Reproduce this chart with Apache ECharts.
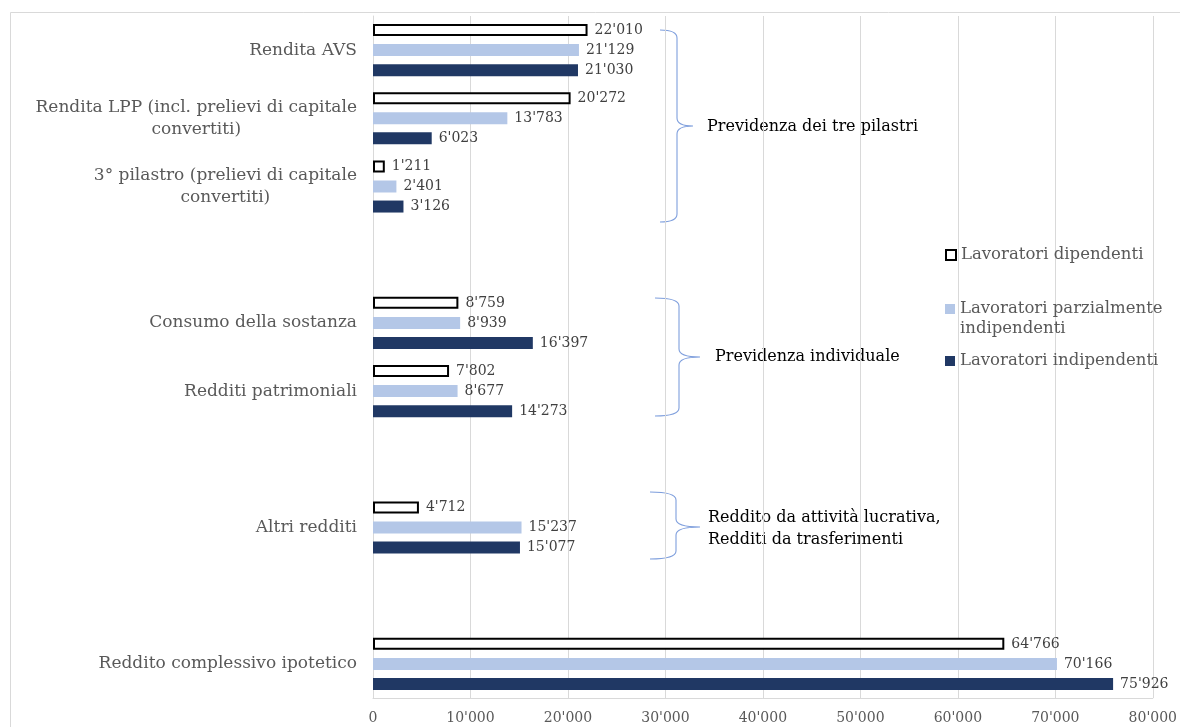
<!DOCTYPE html>
<html>
<head>
<meta charset="utf-8">
<script src="https://cdn.jsdelivr.net/npm/echarts@6/dist/echarts.min.js"></script>
<style>
  html, body { margin: 0; padding: 0; background: #fff; }
  #chart { width: 1180px; height: 727px; }
</style>
</head>
<body>
<div id="chart"></div>
<script>
// Categories, top to bottom (blank entries are spacer rows between groups)
const categories = [
  'Rendita AVS',
  'Rendita LPP (incl. prelievi di capitale\nconvertiti)',
  '3° pilastro (prelievi di capitale\nconvertiti)',
  ' ',
  'Consumo della sostanza',
  'Redditi patrimoniali',
  '  ',
  'Altri redditi',
  '   ',
  'Reddito complessivo ipotetico'
];

const seriesNames = [
  'Lavoratori dipendenti',
  'Lavoratori parzialmente\nindipendenti',
  'Lavoratori indipendenti'
];

const dipendenti  = [22010, 20272, 1211, null, 8759, 7802, null, 4712, null, 64766];
const parziali    = [21129, 13783, 2401, null, 8939, 8677, null, 15237, null, 70166];
const indipendenti = [21030, 6023, 3126, null, 16397, 14273, null, 15077, null, 75926];

const xTicks = [0, 10000, 20000, 30000, 40000, 50000, 60000, 70000, 80000];

const groupNotes = [
  'Previdenza dei tre pilastri',
  'Previdenza individuale',
  'Reddito da attività lucrativa,\nRedditi da trasferimenti'
];

const FONT = 'DejaVu Serif';
const fmt = v => String(v).replace(/\B(?=(\d{3})+(?!\d))/g, "'");

// Curly brace shape: ends at xEnd, vertical spine at xSpine, point at xTip
echarts.graphic.registerShape('curlyBrace', echarts.graphic.extendShape({
  shape: { xEnd: 0, xSpine: 0, xTip: 0, yTop: 0, yMid: 0, yBot: 0 },
  buildPath(ctx, s) {
    const r = 8;
    ctx.moveTo(s.xEnd, s.yTop);
    ctx.quadraticCurveTo(s.xSpine, s.yTop, s.xSpine, s.yTop + r);
    ctx.lineTo(s.xSpine, s.yMid - r);
    ctx.quadraticCurveTo(s.xSpine, s.yMid, s.xTip, s.yMid);
    ctx.moveTo(s.xTip, s.yMid);
    ctx.quadraticCurveTo(s.xSpine, s.yMid, s.xSpine, s.yMid + r);
    ctx.lineTo(s.xSpine, s.yBot - r);
    ctx.quadraticCurveTo(s.xSpine, s.yBot, s.xEnd, s.yBot);
  }
}));

const chart = echarts.init(document.getElementById('chart'));

function barSeries(name, data, itemStyle) {
  return {
    name, type: 'bar', data,
    barWidth: 12, barGap: '67%',
    itemStyle,
    label: {
      show: true, position: 'right', distance: 7,
      color: '#404040', fontFamily: FONT, fontSize: 14,
      formatter: p => fmt(p.value)
    },
    emphasis: { disabled: true }
  };
}

const braceStyle = { stroke: '#7f9fdd', lineWidth: 1.1, fill: null };
const brace = (xEnd, xSpine, xTip, yTop, yMid, yBot) => ({
  type: 'curlyBrace', silent: true,
  shape: { xEnd, xSpine, xTip, yTop, yMid, yBot }, style: braceStyle
});
const note = (text, x, y) => ({
  type: 'text', x, y, silent: true,
  style: { text, fill: '#000', font: `16px "${FONT}"`, lineHeight: 22, verticalAlign: 'middle' }
});

// one legend per series so each item sits at its own height;
// a leading blank line keeps the icon level with the first line of a wrapped name
function legendAt(name, top, wrapped) {
  return {
    data: [name], left: 945, top, orient: 'vertical', padding: 0,
    icon: 'rect', itemWidth: 10, itemHeight: 10, itemGap: 0, selectedMode: false,
    formatter: n => wrapped ? '\n' + n : n,
    textStyle: { color: '#595959', fontFamily: FONT, fontSize: 16.5, lineHeight: 20 }
  };
}

chart.setOption({
  animation: false,
  backgroundColor: '#fff',
  textStyle: { fontFamily: FONT },
  grid: { left: 373, right: 22, top: 16, bottom: 29 },
  legend: [
    legendAt(seriesNames[0], 245, false),
    legendAt(seriesNames[1], 279, true),
    legendAt(seriesNames[2], 351, false)
  ],
  xAxis: {
    type: 'value', min: 0, max: 80000, interval: 10000,
    axisLine: { show: true, lineStyle: { color: '#d9d9d9' } },
    axisTick: { show: false },
    splitLine: { lineStyle: { color: '#d9d9d9' } },
    axisLabel: {
      color: '#595959', fontFamily: FONT, fontSize: 14, margin: 13,
      formatter: v => xTicks.includes(v) ? fmt(v) : ''
    }
  },
  yAxis: {
    type: 'category', data: categories, inverse: true,
    axisLine: { show: true, lineStyle: { color: '#d9d9d9' } },
    axisTick: { show: false },
    axisLabel: {
      margin: 16, align: 'right',
      formatter: v => v.split('\n').map(s => `{c|${s}}`).join('\n'),
      rich: { c: { align: 'center', color: '#595959', fontFamily: FONT, fontSize: 17, lineHeight: 22 } }
    }
  },
  series: [
    barSeries(seriesNames[0], dipendenti, { color: '#ffffff', borderColor: '#000', borderWidth: 2 }),
    barSeries(seriesNames[1], parziali, { color: '#b4c7e7' }),
    barSeries(seriesNames[2], indipendenti, { color: '#203864' })
  ],
  graphic: [
    { type: 'rect', silent: true, shape: { x: 10.5, y: 12.5, width: 1200, height: 760 }, style: { fill: null, stroke: '#d9d9d9', lineWidth: 1 } },
    brace(660, 677, 693, 30, 126, 222),
    note(groupNotes[0], 707, 127),
    brace(655, 679, 700, 298, 357, 416),
    note(groupNotes[1], 715, 357),
    brace(650, 676, 700, 492, 527, 559),
    note(groupNotes[2], 708, 529)
  ]
});
</script>
</body>
</html>
